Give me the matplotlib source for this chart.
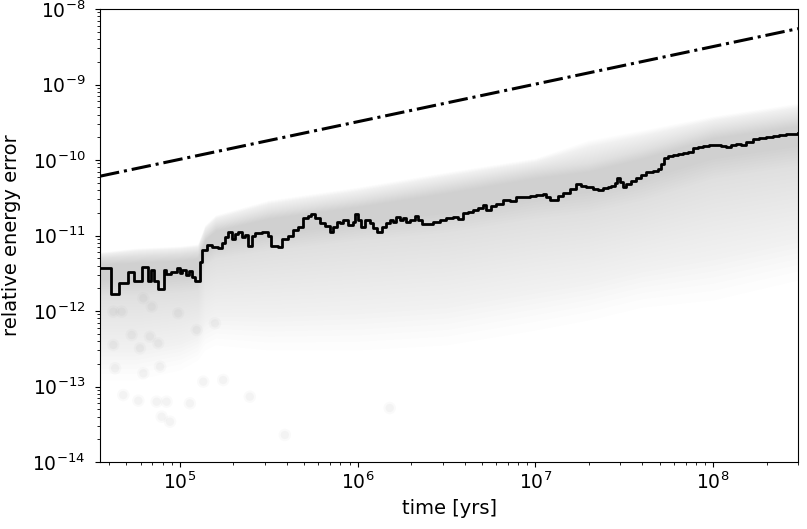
import numpy as np
import matplotlib
matplotlib.use("Agg")
import matplotlib.pyplot as plt

# ---- median relative energy error (log10 time [yrs], log10 error) ----
median_log_t = [4.550, 4.612, 4.657, 4.709, 4.743, 4.785, 4.822, 4.837, 4.856, 4.878,
                4.912, 4.923, 4.949, 4.981, 5.000, 5.013, 5.032, 5.051, 5.069, 5.084,
                5.112, 5.125, 5.150, 5.178, 5.215, 5.234, 5.253, 5.272, 5.291, 5.309,
                5.328, 5.347, 5.365, 5.384, 5.403, 5.422, 5.459, 5.496, 5.515, 5.553,
                5.572, 5.609, 5.637, 5.665, 5.693, 5.721, 5.740, 5.759, 5.787, 5.815,
                5.843, 5.862, 5.881, 5.899, 5.918, 5.946, 5.974, 5.984, 6.002, 6.021,
                6.040, 6.068, 6.087, 6.106, 6.134, 6.162, 6.180, 6.199, 6.218, 6.237,
                6.255, 6.274, 6.293, 6.321, 6.340, 6.359, 6.387, 6.424, 6.461, 6.499,
                6.536, 6.564, 6.592, 6.621, 6.649, 6.677, 6.705, 6.724, 6.752, 6.780,
                6.817, 6.855, 6.893, 6.930, 6.967, 7.005, 7.042, 7.061, 7.080, 7.127,
                7.155, 7.192, 7.230, 7.258, 7.286, 7.323, 7.351, 7.379, 7.408, 7.427,
                7.445, 7.458, 7.473, 7.492, 7.511, 7.539, 7.567, 7.595, 7.623, 7.661,
                7.689, 7.708, 7.726, 7.745, 7.773, 7.801, 7.829, 7.857, 7.885, 7.914,
                7.942, 7.979, 8.017, 8.045, 8.073, 8.101, 8.129, 8.157, 8.185, 8.223,
                8.260, 8.298, 8.335, 8.373, 8.410, 8.448, 8.476]
median_log_err = [-11.434, -11.779, -11.625, -11.479, -11.603, -11.421, -11.603, -11.457, -11.603, -11.709,
                  -11.457, -11.510, -11.479, -11.434, -11.501, -11.457, -11.523, -11.466, -11.554, -11.599,
                  -11.347, -11.192, -11.126, -11.156, -11.170, -11.103, -11.016, -10.950, -11.050, -10.980,
                  -10.950, -11.024, -10.993, -11.139, -11.007, -10.971, -10.950, -11.007, -11.139, -11.156,
                  -11.050, -11.007, -10.927, -10.883, -10.772, -10.742, -10.715, -10.772, -10.839, -10.874,
                  -10.950, -10.883, -10.817, -10.839, -10.795, -10.861, -10.817, -10.715, -10.795, -10.883,
                  -10.795, -10.839, -10.905, -10.950, -10.883, -10.839, -10.795, -10.817, -10.751, -10.795,
                  -10.772, -10.817, -10.795, -10.742, -10.795, -10.848, -10.848, -10.817, -10.795, -10.772,
                  -10.751, -10.786, -10.706, -10.685, -10.662, -10.640, -10.596, -10.662, -10.609, -10.583,
                  -10.530, -10.539, -10.494, -10.494, -10.477, -10.464, -10.450, -10.486, -10.530, -10.477,
                  -10.441, -10.388, -10.322, -10.344, -10.362, -10.388, -10.397, -10.375, -10.354, -10.344,
                  -10.309, -10.242, -10.287, -10.354, -10.318, -10.274, -10.242, -10.199, -10.155, -10.141,
                  -10.123, -10.053, -9.978, -9.947, -9.934, -9.921, -9.911, -9.890, -9.845, -9.824,
                  -9.815, -9.801, -9.801, -9.815, -9.832, -9.801, -9.788, -9.801, -9.757, -9.726,
                  -9.713, -9.699, -9.682, -9.669, -9.656, -9.660, -9.646]

# ---- reference sqrt(t) growth line ----
ref_t = [3.55e4, 3.0e8]
ref_err = [6.1e-11, 5.5e-9]

# ---- envelope of the cloud of individual runs (log10) ----
cloud_log_t = [4.55, 4.75, 5.0, 5.1, 5.14, 5.2, 5.5, 6.0, 6.5, 7.0, 7.3, 7.6, 8.0, 8.48]
cloud_top = [-11.219, -11.166, -11.139, -11.113, -10.861, -10.728, -10.530, -10.358,
             -10.159, -9.974, -9.735, -9.603, -9.417, -9.245]
cloud_dense_top = [-11.298, -11.272, -11.245, -11.219, -10.993, -10.861, -10.689, -10.530,
                   -10.331, -10.132, -10.040, -9.868, -9.603, -9.444]
cloud_dense_bottom = [-11.788, -11.788, -11.748, -11.722, -11.391, -11.298, -11.192, -11.060,
                      -10.954, -10.768, -10.689, -10.530, -10.238, -10.066]
cloud_floor = [-12.914, -12.914, -12.781, -12.649, -12.517, -12.450, -12.517, -12.517,
               -12.450, -12.252, -12.119, -11.950, -11.854, -11.589]

# ---- isolated low-error runs (log10) ----
sparse_log_t = [4.625, 4.635, 4.681, 4.766, 4.869, 4.925, 4.897, 4.944, 5.056, 4.794,
                4.888, 4.728, 4.775, 4.831, 4.878, 4.625, 4.672, 4.794, 4.841, 4.990,
                5.094, 5.197, 5.131, 5.243, 5.590, 5.393, 6.180]
sparse_log_err = [-12.450, -12.759, -13.113, -13.188, -13.201, -13.201, -13.400, -13.466, -13.223, -12.825,
                  -12.738, -12.318, -12.494, -12.340, -12.428, -12.009, -12.009, -11.832, -11.943, -12.030,
                  -12.252, -12.163, -12.936, -12.914, -13.642, -13.135, -13.285]

p = lambda a: 10.0 ** np.asarray(a)

fig = plt.figure(figsize=(8.07, 5.29), dpi=100)
ax = fig.add_axes([100 / 807, 1 - 462 / 529, 698 / 807, 453 / 529])
ax.set_xscale("log")
ax.set_yscale("log")

# cloud of runs: soft gradient from the faint outer envelope to the dense core
ct = p(cloud_log_t)
top, dtop = np.asarray(cloud_top), np.asarray(cloud_dense_top)
dbot, floor = np.asarray(cloud_dense_bottom), np.asarray(cloud_floor)
n_layers = 24
for f in np.linspace(0.0, 1.0, n_layers, endpoint=False):
    lo = floor + f ** 0.8 * (dbot - floor)
    hi = top + f * (dtop - top)
    ax.fill_between(ct, p(lo), p(hi), color="0.45", alpha=0.009, lw=0)
mid = 0.5 * (dtop + dbot)
for g in np.linspace(0.0, 0.8, 8):
    lo = dbot + g * (mid - dbot)
    hi = dtop + 0.4 * g * (mid - dtop)
    ax.fill_between(ct, p(lo), p(hi), color="0.45", alpha=0.011, lw=0)

ax.scatter(p(sparse_log_t), p(sparse_log_err), s=80, color="0.45", alpha=0.035,
           edgecolors="none")
ax.scatter(p(sparse_log_t), p(sparse_log_err), s=35, color="0.45", alpha=0.05,
           edgecolors="none")

ax.plot(ref_t, ref_err, color="black", lw=2.2, ls="-.")
ax.plot(p(median_log_t), p(median_log_err), color="black", lw=2.0,
        drawstyle="steps-post")

ax.set_xlim(3.55e4, 3.0e8)
ax.set_ylim(1e-14, 1e-8)
ax.set_xlabel("time [yrs]", fontsize=14)
ax.set_ylabel("relative energy error", fontsize=14)
ax.yaxis.set_label_coords(-0.113, 0.5)
ax.tick_params(axis="both", which="major", labelsize=13.5)
ax.tick_params(axis="y", which="major", pad=7)

fig.savefig("out.png", dpi=100)
